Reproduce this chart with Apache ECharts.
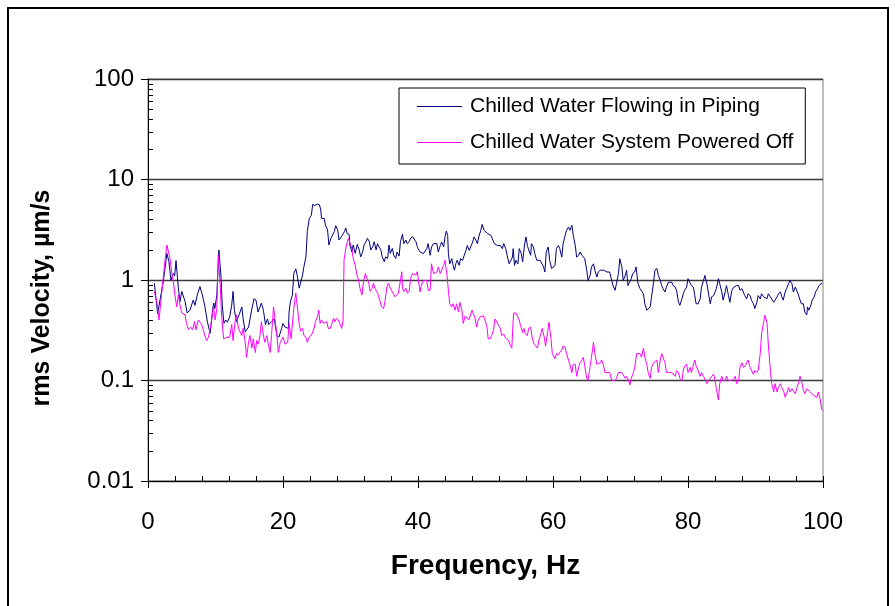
<!DOCTYPE html>
<html><head><meta charset="utf-8">
<script src="https://cdn.jsdelivr.net/npm/echarts@6/dist/echarts.min.js"></script>
<style>html,body{margin:0;padding:0;background:#fff}#c{width:895px;height:606px}</style>
</head><body><div id="c"></div>
<script>
const flowingName = 'Chilled Water Flowing in Piping';
const offName = 'Chilled Water System Powered Off';
const xTitle = 'Frequency, Hz';
const yTitle = 'rms Velocity, µm/s';
const yTickLabels = {0.01:'0.01', 0.1:'0.1', 1:'1', 10:'10', 100:'100'};
const yMinorMultipliers = [2,3,4,5,6,7,8,9];
const yDecades = [0.01,0.1,1,10];

// [frequency Hz, rms velocity µm/s]
const flowing = [[0.94,0.93],[1.43,0.46],[2.3,1.0],[2.8,1.84],[3.1,1.52],[3.4,1.0],[3.75,1.16],[3.95,1.1],[4.15,1.56],[4.3,1.56],[4.5,0.83],[4.74,0.61],[5.0,0.77],[5.2,0.8],[5.5,0.61],[5.8,0.47],[6.2,0.5],[6.7,0.63],[6.96,0.56],[7.3,0.71],[7.7,0.86],[8.05,0.71],[8.4,0.56],[8.8,0.385],[9.2,0.295],[9.6,0.52],[9.75,0.59],[9.9,0.52],[10.2,0.71],[10.5,1.99],[10.8,1.12],[11.0,0.56],[11.25,0.37],[11.5,0.40],[11.75,0.38],[12.1,0.43],[12.4,0.56],[12.6,0.77],[12.8,0.5],[13.1,0.385],[13.5,0.45],[13.9,0.54],[14.1,0.41],[14.4,0.305],[14.9,0.34],[15.3,0.48],[15.7,0.65],[16.0,0.63],[16.3,0.48],[16.8,0.59],[17.1,0.5],[17.4,0.36],[17.7,0.41],[17.9,0.36],[18.3,0.385],[18.7,0.41],[19.1,0.28],[19.4,0.27],[19.8,0.33],
[20.0,0.37],[20.3,0.34],[20.8,0.33],[20.9,0.48],[21.1,0.61],[21.4,0.71],[21.6,1.16],[21.9,1.29],[22.1,1.12],[22.4,0.83],[22.6,0.8],[22.9,1.12],[23.1,1.36],[23.4,1.7],[23.6,3.03],[23.9,4.1],[24.2,4.4],[24.4,5.66],[24.7,5.5],[25.1,5.7],[25.4,5.6],[25.6,4.97],[25.7,4.1],[26.1,4.1],[26.3,3.5],[26.6,3.15],[26.8,2.23],[27.1,2.6],[27.3,2.6],[27.6,3.03],[27.8,3.47],[28.1,3.15],[28.3,2.5],[28.5,2.6],[28.8,2.8],[29.1,3.03],[29.3,3.3],[29.5,2.9],[29.8,2.85],[29.9,2.23],[30.2,1.9],[30.4,2.23],[30.7,1.84],[31.0,2.26],[31.3,1.99],[31.5,1.7],[31.8,1.9],[32.0,2.23],[32.3,2.4],[32.5,2.6],[32.8,2.4],[33.0,1.99],[33.3,2.15],[33.5,2.4],[33.8,1.99],[34.0,2.3],[34.2,2.15],[34.5,1.99],[34.7,1.7],[35.0,1.52],[35.2,1.7],[35.5,1.64],[35.7,2.23],[35.9,1.84],[36.2,2.06],[36.4,1.77],[36.7,1.64],[36.9,1.9],[37.2,1.73],[37.4,2.4],[37.7,2.85],[37.9,2.3],[38.2,2.5],[38.4,2.3],[38.7,2.4],[38.9,2.6],[39.2,2.7],[39.4,2.6],[39.7,2.4],[39.9,2.15],
[40.0,2.05],[40.3,1.9],[40.5,1.97],[40.8,1.83],[41.0,1.9],[41.3,2.05],[41.5,2.3],[41.8,1.76],[42.0,2.13],[42.3,2.3],[42.5,2.2],[42.8,2.3],[43.0,1.9],[43.3,2.2],[43.5,2.39],[43.8,2.13],[44.0,2.68],[44.2,3.07],[44.4,2.78],[44.5,1.83],[44.7,1.45],[45.0,1.63],[45.2,1.4],[45.4,1.25],[45.6,1.45],[45.8,1.57],[46.1,1.4],[46.3,1.63],[46.6,1.57],[46.8,1.63],[47.1,1.97],[47.3,2.2],[47.6,1.97],[47.8,2.13],[48.1,2.39],[48.3,2.68],[48.6,2.48],[48.8,2.3],[49.0,2.68],[49.3,3.12],[49.5,3.58],[49.8,3.12],[50.0,3.0],[50.3,2.9],[50.5,2.9],[50.8,2.78],[51.0,2.58],[51.3,2.3],[51.5,2.3],[51.8,2.2],[52.0,2.13],[52.2,2.2],[52.5,2.05],[52.7,2.3],[53.0,2.05],[53.2,1.76],[53.5,1.45],[53.7,1.4],[54.0,1.69],[54.1,2.05],[54.3,1.4],[54.5,1.57],[54.8,1.45],[55.0,2.05],[55.3,1.83],[55.5,1.51],[55.8,2.3],[56.0,2.68],[56.2,2.2],[56.5,1.9],[56.7,1.76],[56.8,2.3],[57.1,2.13],[57.3,1.83],[57.6,1.57],[57.8,1.63],[58.1,1.57],[58.3,1.51],[58.6,1.35],[58.8,1.2],[59.0,1.9],[59.3,2.13],[59.5,1.57],[59.8,1.3],
[60.0,1.25],[60.3,1.4],[60.5,2.05],[60.8,2.2],[61.0,2.05],[61.3,1.69],[61.5,2.3],[61.8,2.78],[62.0,3.12],[62.3,3.37],[62.5,3.12],[62.8,3.5],[63.0,2.78],[63.3,2.2],[63.5,1.69],[63.8,1.76],[64.0,1.9],[64.3,1.76],[64.5,1.83],[64.7,1.63],[65.0,1.25],[65.2,0.99],[65.5,1.11],[65.7,1.35],[66.0,1.45],[66.2,1.25],[66.5,1.07],[66.7,1.2],[67.0,1.25],[67.2,1.3],[67.5,1.25],[67.7,1.2],[68.0,1.2],[68.2,1.16],[68.4,1.2],[68.7,0.99],[68.9,0.88],[69.2,0.79],[69.4,0.92],[69.7,1.16],[69.9,1.63],[70.2,1.35],[70.4,0.99],[70.7,1.11],[70.9,1.25],[71.1,0.88],[71.3,0.88],[71.6,1.03],[71.8,1.16],[72.1,1.2],[72.3,1.35],[72.5,1.3],[72.6,0.92],[72.9,0.82],[73.1,0.79],[73.4,0.73],[73.6,0.58],[73.9,0.5],[74.1,0.48],[74.4,0.54],[74.6,0.68],[74.9,0.95],[75.1,1.25],[75.4,1.3],[75.6,1.11],[75.9,0.99],[76.1,0.88],[76.3,0.82],[76.6,0.76],[76.8,0.85],[77.1,0.95],[77.3,0.99],[77.6,0.95],[77.8,0.88],[78.1,0.85],[78.3,0.79],[78.6,0.6],[78.8,0.56],[79.1,0.65],[79.3,0.73],[79.5,0.79],[79.8,0.85],
[80.0,1.03],[80.2,1.07],[80.5,0.88],[80.8,0.85],[81.0,0.7],[81.2,0.58],[81.5,0.58],[81.8,0.65],[82.0,0.85],[82.3,0.99],[82.5,1.11],[82.8,0.92],[83.0,0.76],[83.3,0.58],[83.5,0.68],[83.8,0.7],[84.0,0.7],[84.2,0.82],[84.5,1.03],[84.7,0.92],[85.0,0.76],[85.2,0.63],[85.5,0.76],[85.7,0.88],[86.0,0.7],[86.2,0.6],[86.5,0.79],[86.8,0.85],[87.0,0.82],[87.2,0.88],[87.5,0.88],[87.7,0.79],[88.0,0.82],[88.2,0.76],[88.4,0.7],[88.7,0.65],[88.9,0.73],[89.2,0.7],[89.4,0.63],[89.7,0.58],[89.9,0.52],[90.2,0.6],[90.4,0.7],[90.7,0.65],[90.9,0.73],[91.2,0.68],[91.4,0.7],[91.7,0.65],[91.9,0.73],[92.2,0.68],[92.4,0.65],[92.7,0.6],[92.9,0.63],[93.2,0.68],[93.4,0.73],[93.7,0.76],[93.9,0.68],[94.1,0.63],[94.4,0.76],[94.6,0.82],[94.9,0.92],[95.1,0.99],[95.4,0.92],[95.6,0.76],[95.9,0.85],[96.1,0.88],[96.3,0.73],[96.6,0.63],[96.8,0.58],[97.1,0.58],[97.3,0.48],[97.6,0.45],[97.7,0.54],[97.9,0.5],[98.2,0.56],[98.4,0.63],[98.7,0.68],[98.9,0.76],[99.2,0.82],[99.4,0.88],[99.7,0.92],[99.9,0.92]];

const poweredOff = [[0.94,0.765],[1.3,0.61],[1.63,0.4],[2.0,0.71],[2.5,1.52],[2.8,2.23],[3.0,2.26],[3.26,1.64],[3.5,1.21],[3.75,0.96],[4.0,0.71],[4.25,0.54],[4.5,0.71],[4.75,0.56],[5.0,0.47],[5.25,0.48],[5.5,0.45],[5.7,0.37],[6.0,0.32],[6.3,0.34],[6.6,0.32],[6.9,0.385],[7.1,0.32],[7.45,0.4],[7.7,0.41],[7.95,0.36],[8.2,0.32],[8.4,0.28],[8.7,0.25],[8.95,0.27],[9.2,0.26],[9.4,0.385],[9.7,0.54],[9.95,0.4],[10.2,0.52],[10.4,1.77],[10.7,0.89],[10.9,0.45],[11.2,0.26],[11.7,0.27],[12.1,0.27],[12.4,0.36],[12.6,0.25],[12.9,0.385],[13.1,0.45],[13.4,0.33],[13.9,0.28],[14.1,0.33],[14.4,0.24],[14.6,0.17],[14.9,0.24],[15.1,0.28],[15.4,0.21],[15.6,0.26],[15.9,0.19],[16.1,0.25],[16.3,0.23],[16.6,0.28],[16.8,0.385],[17.1,0.28],[17.3,0.24],[17.6,0.28],[17.8,0.235],[18.1,0.19],[18.3,0.28],[18.6,0.54],[18.8,0.52],[19.1,0.28],[19.3,0.19],[19.6,0.24],[19.8,0.23],
[20.0,0.27],[20.3,0.23],[20.5,0.22],[20.7,0.24],[20.9,0.37],[21.2,0.26],[21.4,0.25],[21.6,0.52],[21.9,0.74],[22.1,0.56],[22.4,0.37],[22.6,0.31],[22.9,0.33],[23.1,0.28],[23.4,0.27],[23.6,0.24],[23.9,0.27],[24.1,0.26],[24.3,0.29],[24.6,0.33],[24.8,0.385],[25.1,0.43],[25.3,0.5],[25.5,0.37],[25.7,0.4],[26.0,0.37],[26.2,0.36],[26.5,0.385],[26.7,0.33],[27.0,0.33],[27.2,0.34],[27.5,0.415],[27.7,0.385],[27.9,0.415],[28.2,0.4],[28.4,0.37],[28.7,0.33],[28.9,0.4],[29.05,1.6],[29.4,2.23],[29.7,2.6],[29.9,2.5],[30.2,2.06],[30.4,1.64],[30.7,1.41],[30.9,1.16],[31.2,1.0],[31.4,0.83],[31.7,0.71],[31.9,0.93],[32.2,1.16],[32.4,1.19],[32.7,0.93],[32.9,0.77],[33.2,0.83],[33.4,0.93],[33.6,0.83],[33.9,0.77],[34.1,0.71],[34.4,0.61],[34.6,0.54],[34.9,0.52],[35.1,0.61],[35.4,0.86],[35.6,0.93],[35.9,0.83],[36.1,0.86],[36.3,0.74],[36.6,0.68],[36.8,0.66],[37.1,0.74],[37.3,0.77],[37.6,1.21],[37.7,0.83],[37.9,0.77],[38.2,0.83],[38.4,0.74],[38.7,0.77],[38.9,1.04],[39.2,1.16],[39.4,1.21],[39.7,1.12],[39.9,1.21],
[40.0,1.07],[40.3,0.76],[40.5,0.88],[40.8,0.99],[41.0,0.95],[41.3,0.99],[41.5,0.79],[41.8,0.79],[42.0,1.45],[42.3,1.16],[42.5,1.11],[42.8,1.2],[43.0,1.35],[43.3,1.16],[43.5,1.11],[43.8,1.4],[44.0,1.57],[44.3,1.11],[44.5,0.79],[44.7,0.58],[45.0,0.54],[45.2,0.58],[45.5,0.5],[45.7,0.58],[46.0,0.48],[46.2,0.6],[46.5,0.5],[46.7,0.37],[47.0,0.44],[47.2,0.44],[47.5,0.4],[47.7,0.43],[48.0,0.5],[48.2,0.46],[48.4,0.43],[48.7,0.34],[48.9,0.4],[49.2,0.43],[49.4,0.44],[49.7,0.44],[49.9,0.43],[50.2,0.35],[50.4,0.26],[50.7,0.26],[50.9,0.28],[51.2,0.32],[51.4,0.41],[51.7,0.38],[51.9,0.37],[52.2,0.33],[52.4,0.28],[52.7,0.29],[52.9,0.27],[53.1,0.27],[53.4,0.25],[53.6,0.23],[53.9,0.21],[54.1,0.4],[54.2,0.47],[54.5,0.47],[54.7,0.46],[55.0,0.4],[55.2,0.35],[55.5,0.30],[55.7,0.33],[55.9,0.29],[56.2,0.28],[56.4,0.33],[56.7,0.34],[56.9,0.27],[57.2,0.23],[57.4,0.22],[57.7,0.21],[57.9,0.25],[58.2,0.29],[58.4,0.33],[58.7,0.27],[58.9,0.22],[59.2,0.30],[59.4,0.38],[59.7,0.26],[59.9,0.185],
[60.0,0.185],[60.3,0.165],[60.5,0.185],[60.8,0.18],[61.0,0.19],[61.3,0.2],[61.5,0.22],[61.8,0.215],[62.0,0.185],[62.3,0.16],[62.5,0.145],[62.8,0.12],[63.0,0.145],[63.3,0.145],[63.5,0.11],[63.8,0.135],[64.0,0.15],[64.3,0.16],[64.5,0.17],[64.7,0.14],[65.0,0.105],[65.2,0.1],[65.5,0.14],[65.7,0.17],[66.0,0.24],[66.2,0.185],[66.5,0.145],[66.7,0.15],[67.0,0.15],[67.2,0.16],[67.5,0.14],[67.7,0.12],[68.0,0.12],[68.2,0.12],[68.4,0.12],[68.7,0.1],[68.9,0.1],[69.2,0.1],[69.4,0.105],[69.7,0.12],[69.9,0.125],[70.2,0.12],[70.4,0.12],[70.7,0.105],[70.9,0.11],[71.2,0.1],[71.4,0.09],[71.6,0.105],[71.9,0.12],[72.1,0.135],[72.4,0.185],[72.6,0.185],[72.9,0.185],[73.1,0.17],[73.4,0.21],[73.6,0.17],[73.9,0.145],[74.1,0.12],[74.4,0.105],[74.6,0.135],[74.9,0.15],[75.1,0.145],[75.4,0.16],[75.6,0.12],[75.9,0.16],[76.1,0.185],[76.3,0.19],[76.6,0.15],[76.8,0.12],[77.1,0.12],[77.3,0.125],[77.6,0.12],[77.8,0.125],[78.1,0.11],[78.3,0.125],[78.6,0.12],[78.8,0.105],[79.1,0.1],[79.3,0.125],[79.5,0.14],[79.8,0.145],
[80.0,0.12],[80.3,0.135],[80.5,0.12],[80.7,0.135],[81.0,0.16],[81.2,0.14],[81.5,0.126],[81.8,0.11],[82.0,0.12],[82.3,0.11],[82.5,0.11],[82.8,0.093],[83.0,0.096],[83.3,0.105],[83.5,0.11],[83.8,0.115],[84.0,0.1],[84.2,0.083],[84.5,0.064],[84.7,0.093],[85.0,0.11],[85.2,0.1],[85.5,0.1],[85.7,0.11],[86.0,0.1],[86.2,0.1],[86.5,0.1],[86.8,0.105],[87.0,0.11],[87.2,0.093],[87.5,0.1],[87.7,0.135],[88.0,0.15],[88.2,0.135],[88.5,0.14],[88.7,0.15],[88.9,0.16],[89.2,0.135],[89.4,0.13],[89.7,0.115],[89.9,0.126],[90.2,0.12],[90.4,0.126],[90.7,0.185],[90.9,0.29],[91.2,0.38],[91.4,0.445],[91.7,0.38],[91.9,0.23],[92.2,0.126],[92.4,0.093],[92.7,0.077],[92.9,0.093],[93.2,0.077],[93.4,0.085],[93.7,0.093],[93.9,0.085],[94.2,0.077],[94.4,0.068],[94.6,0.074],[94.9,0.085],[95.1,0.077],[95.4,0.083],[95.6,0.085],[95.9,0.074],[96.1,0.083],[96.4,0.096],[96.6,0.11],[96.8,0.1],[97.1,0.08],[97.3,0.074],[97.6,0.083],[97.8,0.085],[98.1,0.077],[98.3,0.08],[98.6,0.071],[98.8,0.074],[99.1,0.068],[99.3,0.077],[99.6,0.064],[99.8,0.052],[100.0,0.05]];

const FONT = "'Liberation Sans', Arial, sans-serif";
const chart = echarts.init(document.getElementById('c'), null, {renderer:'canvas'});
chart.setOption({
  animation: false,
  backgroundColor: '#ffffff',
  textStyle: {fontFamily: FONT},
  grid: {left:148, top:79, right:72, bottom:125, show:true, borderColor:'#808080', borderWidth:1, backgroundColor:'rgba(0,0,0,0)'},
  legend: {
    left: 399, top: 88, orient: 'vertical',
    borderColor: '#000', borderWidth: 1,
    padding: [8, 12, 11, 18], itemGap: 15,
    itemWidth: 45, itemHeight: 1, icon: 'rect',
    textStyle: {fontSize: 21, color: '#000', fontFamily: FONT, padding: [0,0,0,3]},
    data: [flowingName, offName]
  },
  xAxis: [{
    type:'value', min:0, max:100, interval:20,
    axisLine:{show:true, onZero:false, lineStyle:{color:'#000', width:1}},
    axisTick:{show:true, length:7, lineStyle:{color:'#000'}},
    axisLabel:{fontSize:24, color:'#000', fontFamily:FONT, margin:29},
    splitLine:{show:false},
    name: xTitle, nameLocation:'middle', nameGap:71,
    nameTextStyle:{fontSize:28, fontWeight:'bold', color:'#000', fontFamily:FONT}
  },{
    type:'value', min:0, max:100, interval:4, position:'bottom',
    axisLine:{show:false}, axisTick:{show:true, inside:true, length:5, lineStyle:{color:'#000'}},
    axisLabel:{show:false}, splitLine:{show:false}
  }],
  yAxis: {
    type:'log', logBase:10, min:0.01, max:100,
    axisLine:{show:true, lineStyle:{color:'#000', width:1}},
    axisTick:{show:true, length:7, lineStyle:{color:'#000'}},
    axisLabel:{fontSize:24, color:'#000', fontFamily:FONT, margin:14,
      formatter: v => yTickLabels[+(+v).toPrecision(6)] ?? String(v)},
    splitLine:{show:true, lineStyle:{color:'#3a3a3a', width:1.3}},
    name: yTitle, nameLocation:'middle', nameGap:93, nameRotate:90,
    nameTextStyle:{fontSize:25, fontWeight:'bold', color:'#000', fontFamily:FONT, padding:[0,36,0,0]}
  },
  series: [
    {name: flowingName, type:'line', data: flowing, showSymbol:false, symbol:'none',
     lineStyle:{width:1, color:'#000080'}, itemStyle:{color:'#000080'}, z:2},
    {name: offName, type:'line', data: poweredOff, showSymbol:false, symbol:'none',
     lineStyle:{width:1, color:'#ff00ff'}, itemStyle:{color:'#ff00ff'}, z:3}
  ]
});

// Minor ticks on log axis (2..9 per decade) placed through the axis scale
const x0 = chart.convertToPixel({xAxisIndex:0}, 0);
const ticks = [];
yDecades.forEach(d => yMinorMultipliers.forEach(m => {
  const y = Math.round(chart.convertToPixel({yAxisIndex:0}, m*d)) + 0.5;
  ticks.push({type:'line', silent:true, shape:{x1:x0, y1:y, x2:x0+5, y2:y}, style:{stroke:'#000', lineWidth:1}});
}));
ticks.push({type:'rect', silent:true, shape:{x:8, y:8, width:880, height:640}, style:{fill:'none', stroke:'#000', lineWidth:2}});
chart.setOption({graphic: ticks});
</script>
</body></html>
